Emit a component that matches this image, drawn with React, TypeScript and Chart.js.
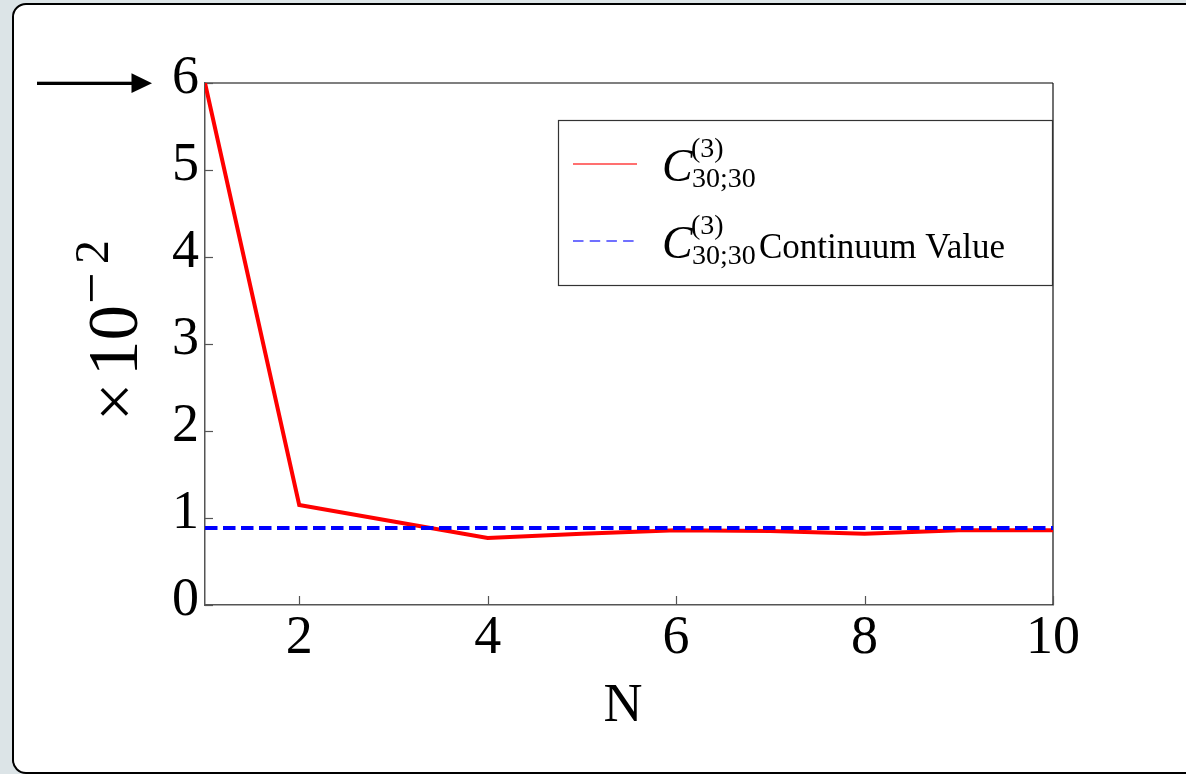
import React, { useEffect, useRef } from "react";
import { Chart, registerables } from "chart.js";

Chart.register(...registerables);

// ---- data ----
const nValues = [1, 2, 3, 4, 5, 6, 7, 8, 9, 10];
const c3Values = [6.0, 1.15, 0.96, 0.77, 0.82, 0.86, 0.85, 0.82, 0.86, 0.86];
const continuumValue = 0.885;
const continuumValues = nValues.map(() => continuumValue);
const xTickValues = [2, 4, 6, 8, 10];
const yTickValues = [0, 1, 2, 3, 4, 5, 6];
const xTitle = "N";
const yTitleTimes = "×";
const yTitleBase = "10";
const yTitleMinus = "−";
const yTitleExp = "2";
const legendSymbol = "C";
const legendSup = "(3)";
const legendSub = "30;30";
const legendSuffix = ["", "Continuum Value"];

const SERIF = '"Liberation Serif", "Times New Roman", serif';

const decorPlugin = {
  id: "decor",
  beforeDatasetsDraw(chart: any) {
    const { ctx, chartArea: ca, scales } = chart;
    const xs = scales.x;
    const ys = scales.y;
    ctx.save();
    // top & right frame
    ctx.strokeStyle = "#555";
    ctx.lineWidth = 1.5;
    ctx.beginPath();
    ctx.moveTo(ca.left, ca.top);
    ctx.lineTo(ca.right, ca.top);
    ctx.stroke();
    ctx.strokeStyle = "#111";
    ctx.lineWidth = 1.2;
    ctx.beginPath();
    ctx.moveTo(ca.right, ca.top);
    ctx.lineTo(ca.right, ca.bottom);
    ctx.stroke();
    // inward tick marks
    ctx.strokeStyle = "#555";
    ctx.lineWidth = 1.2;
    ys.ticks.forEach((t: any) => {
      const py = Math.round(ys.getPixelForValue(t.value)) + 0.5;
      ctx.beginPath();
      ctx.moveTo(ca.left, py);
      ctx.lineTo(ca.left + 8, py);
      ctx.stroke();
    });
    xs.ticks.forEach((t: any) => {
      const px = Math.round(xs.getPixelForValue(t.value)) + 0.5;
      ctx.beginPath();
      ctx.moveTo(px, ca.bottom);
      ctx.lineTo(px, ca.bottom - 9);
      ctx.stroke();
    });
    ctx.restore();
  },
  afterDraw(chart: any) {
    const { ctx, chartArea: ca } = chart;
    ctx.save();
    // arrow pointing at top y tick
    ctx.fillStyle = "#000";
    ctx.fillRect(37, 81.7, 97, 3.3);
    ctx.beginPath();
    ctx.moveTo(131.5, 73.3);
    ctx.lineTo(152, 83.3);
    ctx.lineTo(131.5, 93);
    ctx.closePath();
    ctx.fill();

    // x-axis title
    ctx.font = `54px ${SERIF}`;
    ctx.textAlign = "center";
    ctx.textBaseline = "alphabetic";
    ctx.fillText(xTitle, (ca.left + ca.right) / 2 - 6, 721);

    // y-axis title: ×10^−2 rotated
    ctx.save();
    ctx.translate(137, 421);
    ctx.rotate(-Math.PI / 2);
    ctx.textBaseline = "alphabetic";
    ctx.textAlign = "left";
    ctx.font = `68px ${SERIF}`;
    ctx.fillText(yTitleTimes, 0, 0);
    ctx.font = `71px ${SERIF}`;
    ctx.fillText(yTitleBase, 45, 0);
    ctx.font = `56px ${SERIF}`;
    ctx.fillText(yTitleMinus, 117, -27);
    ctx.font = `48px ${SERIF}`;
    ctx.fillText(yTitleExp, 157, -29);
    ctx.restore();

    // legend
    const lx = 558, ly = 120, lw = 494, lh = 165;
    ctx.fillStyle = "#fff";
    ctx.fillRect(lx, ly, lw, lh);
    ctx.strokeStyle = "#333";
    ctx.lineWidth = 1.2;
    ctx.strokeRect(lx + 0.5, ly + 0.5, lw, lh);

    const rows = [181, 258];
    chart.data.datasets.forEach((ds: any, i: number) => {
      const base = rows[i];
      const sy = base - 17;
      ctx.save();
      ctx.strokeStyle = ds.borderColor;
      ctx.globalAlpha = 0.75;
      ctx.lineWidth = 1.5;
      ctx.setLineDash(ds.borderDash ? [10.5, 6.2] : []);
      ctx.beginPath();
      ctx.moveTo(573, sy);
      ctx.lineTo(637, sy);
      ctx.stroke();
      ctx.restore();

      ctx.fillStyle = "#000";
      ctx.textAlign = "left";
      ctx.textBaseline = "alphabetic";
      ctx.font = `italic 46px ${SERIF}`;
      ctx.fillText(legendSymbol, 662, base);
      ctx.font = `28px ${SERIF}`;
      ctx.fillText(legendSup, 691, base - 24);
      ctx.fillText(legendSub, 692, base + 6);
      if (legendSuffix[i]) {
        ctx.font = `35px ${SERIF}`;
        ctx.fillText(legendSuffix[i], 759, base);
      }
    });
    ctx.restore();
  },
};

export default function App() {
  const canvasRef = useRef<HTMLCanvasElement | null>(null);

  useEffect(() => {
    const canvas = canvasRef.current;
    if (!canvas) return;
    const chart = new Chart(canvas, {
      type: "line",
      data: {
        labels: nValues,
        datasets: [
          {
            label: legendSymbol + legendSup + legendSub,
            data: nValues.map((n, i) => ({ x: n, y: c3Values[i] })),
            borderColor: "#ff0000",
            borderWidth: 4,
            pointRadius: 0,
            tension: 0,
            fill: false,
            order: 2,
          },
          {
            label: legendSymbol + legendSup + legendSub + " " + legendSuffix[1],
            data: nValues.map((n, i) => ({ x: n, y: continuumValues[i] })),
            borderColor: "#0000ff",
            borderWidth: 4,
            borderDash: [12.5, 5.5],
            pointRadius: 0,
            tension: 0,
            fill: false,
            order: 1,
          },
        ],
      },
      options: {
        responsive: false,
        animation: false,
        devicePixelRatio: 1,
        layout: { padding: { left: 0, right: 133, top: 83, bottom: 0 } },
        plugins: {
          legend: { display: false },
          tooltip: { enabled: false },
        },
        scales: {
          x: {
            type: "linear",
            min: 1,
            max: 10,
            afterBuildTicks: (scale: any) => {
              scale.ticks = xTickValues.map((v) => ({ value: v }));
            },
            afterFit: (scale: any) => {
              scale.height = 169;
            },
            grid: { display: false, drawTicks: false },
            border: { display: true, color: "#555", width: 1.5 },
            ticks: {
              color: "#000",
              font: { family: SERIF, size: 54 },
              padding: 1,
              maxRotation: 0,
              autoSkip: false,
            },
          },
          y: {
            type: "linear",
            min: 0,
            max: 6,
            afterBuildTicks: (scale: any) => {
              scale.ticks = yTickValues.map((v) => ({ value: v }));
            },
            afterFit: (scale: any) => {
              scale.width = 205;
            },
            grid: { display: false, drawTicks: false },
            border: { display: true, color: "#555", width: 1.5 },
            ticks: {
              color: "#000",
              font: { family: SERIF, size: 54 },
              padding: 6,
              labelOffset: -4,
              autoSkip: false,
            },
          },
        },
      },
      plugins: [decorPlugin],
    } as any);
    return () => chart.destroy();
  }, []);

  return (
    <div style={{ position: "fixed", left: 0, top: 0, width: 1186, height: 774, background: "#dce4e7", overflow: "hidden" }}>
      <div
        style={{
          position: "absolute",
          left: 12,
          top: 3,
          width: 1300,
          height: 771,
          boxSizing: "border-box",
          border: "2.5px solid #000",
          borderRadius: 14,
          background: "#fff",
        }}
      />
      <canvas
        ref={canvasRef}
        width={1186}
        height={774}
        style={{ position: "absolute", left: 0, top: 0, width: 1186, height: 774 }}
      />
    </div>
  );
}
